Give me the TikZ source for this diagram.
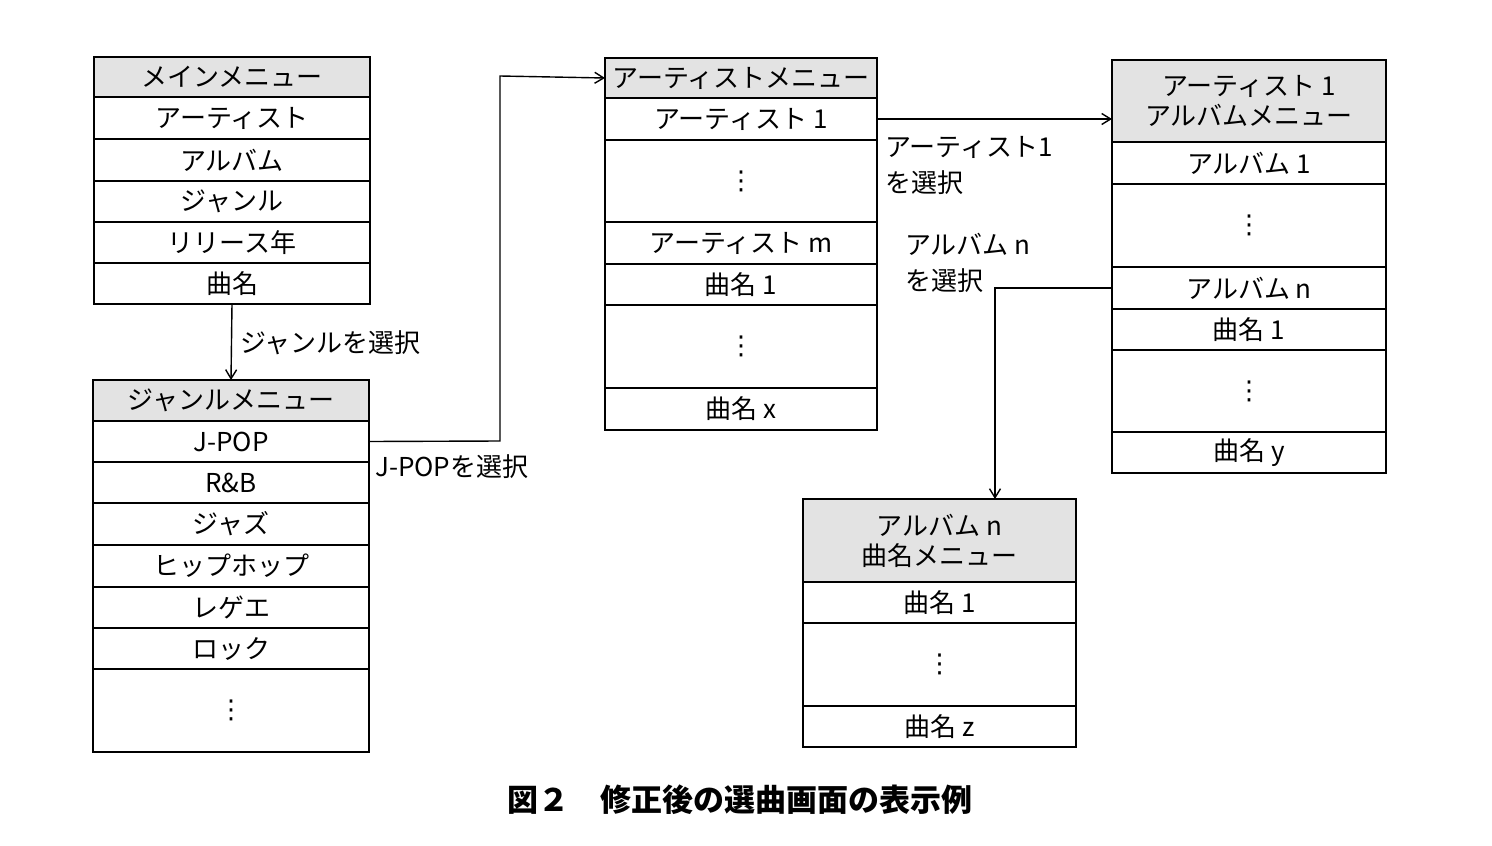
\documentclass[tikz,border=0pt]{standalone}
\usepackage{fontspec}
\setmainfont{Noto Sans CJK JP}
\newfontfamily\djv{DejaVu Sans}
\usetikzlibrary{arrows.meta}
\newcommand\rb[7]{\pgfmathsetmacro\ww{#4-#2}\pgfmathsetmacro\hh{#5-#3}%
\node[cell,fill=#7,minimum width=\ww pt,minimum height=\hh pt,anchor=north west] (#1) at (#2,#3) {#6};}
\newcommand\vd{{\djv ⋮}}
\tikzset{cell/.style={draw,line width=1.4pt,inner sep=0pt,outer sep=0pt,align=center,font=\fontsize{26}{30}\selectfont},
arr/.style={line width=1.4pt,-{Straight Barb[length=9pt,width=11pt,line width=1.4pt]}},
lab/.style={font=\fontsize{26}{36}\selectfont,align=left,inner sep=0pt}}
\begin{document}
\begin{tikzpicture}[x=1pt,y=-1pt]
\useasboundingbox[fill=white] (0,0) rectangle (1492,846);
% main menu
\rb{m0}{94}{57}{370}{97}{メインメニュー}{gray!22}
\rb{m1}{94}{97}{370}{139}{アーティスト}{white}
\rb{m2}{94}{139}{370}{181}{アルバム}{white}
\rb{m3}{94}{181}{370}{222}{ジャンル}{white}
\rb{m4}{94}{222}{370}{263}{リリース年}{white}
\rb{m5}{94}{263}{370}{304}{曲名}{white}
% genre menu
\rb{g0}{93}{380}{369}{421}{ジャンルメニュー}{gray!22}
\rb{g1}{93}{421}{369}{462}{J-POP}{white}
\rb{g2}{93}{462}{369}{503}{R\&B}{white}
\rb{g3}{93}{503}{369}{545}{ジャズ}{white}
\rb{g4}{93}{545}{369}{587}{ヒップホップ}{white}
\rb{g5}{93}{587}{369}{628}{レゲエ}{white}
\rb{g6}{93}{628}{369}{669}{ロック}{white}
\rb{g7}{93}{669}{369}{752}{\vd}{white}
% artist menu
\rb{a0}{605}{58}{877}{98}{アーティストメニュー}{gray!22}
\rb{a1}{605}{98}{877}{140}{アーティスト 1}{white}
\rb{a2}{605}{140}{877}{222}{\vd}{white}
\rb{a3}{605}{222}{877}{264}{アーティスト m}{white}
\rb{a4}{605}{264}{877}{305}{曲名 1}{white}
\rb{a5}{605}{305}{877}{388}{\vd}{white}
\rb{a6}{605}{388}{877}{430}{曲名 x}{white}
% artist1 album menu
\rb{b0}{1112}{60}{1386}{142}{アーティスト 1\\アルバムメニュー}{gray!22}
\rb{b1}{1112}{142}{1386}{184}{アルバム 1}{white}
\rb{b2}{1112}{184}{1386}{267}{\vd}{white}
\rb{b3}{1112}{267}{1386}{309}{アルバム n}{white}
\rb{b4}{1112}{309}{1386}{350}{曲名 1}{white}
\rb{b5}{1112}{350}{1386}{432}{\vd}{white}
\rb{b6}{1112}{432}{1386}{473}{曲名 y}{white}
% album n songs
\rb{c0}{803}{499}{1076}{582}{アルバム n\\曲名メニュー}{gray!22}
\rb{c1}{803}{582}{1076}{623}{曲名 1}{white}
\rb{c2}{803}{623}{1076}{706}{\vd}{white}
\rb{c3}{803}{706}{1076}{747}{曲名 z}{white}
% arrows
\draw[arr] (m5.south) -- (g0.north);
\node[lab,anchor=west] (l1) at (240,343) {ジャンルを選択};
\coordinate (j1) at (500,441);
\coordinate (j2) at (500,76);
\draw[arr] (g1.east) -- (j1) -- (j2) -- (a0.west);
\node[lab,anchor=west] (l2) at (375,467) {J-POPを選択};
\draw[arr] (a1.east) -- (b1.west |- a1.east);
\node[lab,anchor=west] (l3) at (885,166) {アーティスト1\\を選択};
\coordinate (k1) at (995,288);
\draw[arr] (b3.west) -- (k1) -- (c0.north -| k1);
\node[lab,anchor=west] (l4) at (905,263) {アルバム n\\を選択};
\node[font=\fontsize{31}{36}\selectfont\bfseries,inner sep=0pt] (cap) at (740,800) {図２\quad 修正後の選曲画面の表示例};
\end{tikzpicture}
\end{document}
